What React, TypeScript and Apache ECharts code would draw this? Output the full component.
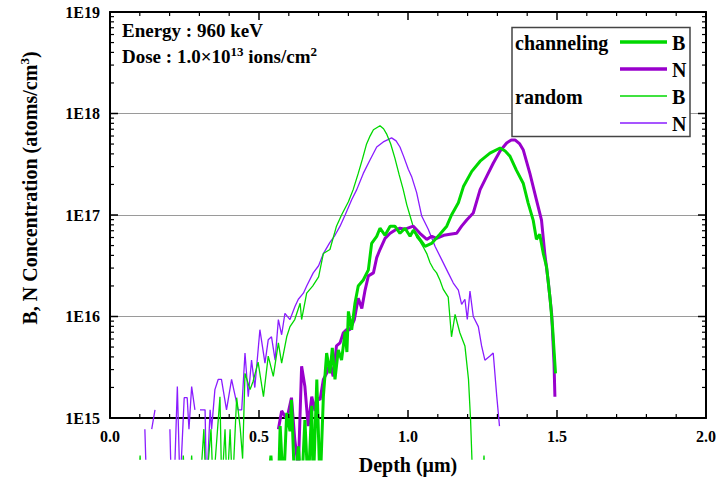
import React, { useEffect, useRef } from "react";
import * as echarts from "echarts";

// Each point: [depth (µm), log10(concentration in atoms/cm^3)]; null = gap (no counts)
type P = [number, number | null];

const xTickLabels = ["0.0", "0.5", "1.0", "1.5", "2.0"];
const yDecades = [15, 16, 17, 18, 19];

const channelingB: P[] = [
  [0.53, 14.3], [0.54, 14.63], [0.548, 14.3], [0.565, 14.3], [0.571, 14.92], [0.582, 14.3], [0.593, 15.05],
  [0.604, 14.87], [0.609, 15.18], [0.62, 14.3], [0.632, 14.72], [0.643, 14.3], [0.654, 14.98], [0.665, 14.3],
  [0.677, 15.12], [0.682, 14.3], [0.694, 15.38], [0.705, 14.3], [0.716, 15.21], [0.727, 15.64], [0.738, 15.44],
  [0.746, 15.69], [0.755, 15.38], [0.766, 15.67], [0.777, 15.57], [0.789, 15.85], [0.795, 15.65], [0.8, 16.05],
  [0.811, 15.87], [0.822, 16.13], [0.833, 16.3], [0.85, 16.36], [0.867, 16.46], [0.878, 16.72], [0.895, 16.79],
  [0.906, 16.87], [0.923, 16.8], [0.94, 16.89], [0.956, 16.89], [0.973, 16.82], [0.99, 16.87], [1.007, 16.79],
  [1.018, 16.85], [1.04, 16.76], [1.057, 16.69], [1.079, 16.72], [1.107, 16.81], [1.13, 16.89], [1.146, 17.0],
  [1.169, 17.12], [1.186, 17.28], [1.214, 17.43], [1.242, 17.53], [1.275, 17.61], [1.309, 17.66], [1.326, 17.63],
  [1.342, 17.58], [1.364, 17.44], [1.387, 17.31], [1.403, 17.12], [1.42, 16.95], [1.431, 16.76], [1.442, 16.81],
  [1.454, 16.62], [1.465, 16.49], [1.477, 16.17], [1.485, 15.9], [1.495, 15.44],
];

const channelingN: P[] = [
  [0.565, 14.89], [0.576, 15.07], [0.593, 14.99], [0.598, 15.05], [0.609, 15.2], [0.62, 14.79], [0.632, 14.5],
  [0.643, 15.51], [0.654, 15.31], [0.665, 14.92], [0.677, 15.21], [0.688, 15.07], [0.694, 15.2], [0.705, 15.18],
  [0.716, 15.38], [0.727, 15.44], [0.738, 15.54], [0.749, 15.41], [0.76, 15.71], [0.772, 15.74], [0.783, 15.84],
  [0.794, 15.87], [0.805, 15.87], [0.82, 15.97], [0.833, 16.18], [0.845, 16.08], [0.856, 16.26], [0.867, 16.4],
  [0.884, 16.43], [0.895, 16.58], [0.906, 16.66], [0.923, 16.77], [0.94, 16.82], [0.956, 16.85], [0.973, 16.87],
  [0.99, 16.86], [1.018, 16.89], [1.04, 16.82], [1.063, 16.76], [1.08, 16.79], [1.096, 16.77], [1.12, 16.8],
  [1.141, 16.81], [1.163, 16.82], [1.18, 16.89], [1.197, 16.95], [1.219, 17.02], [1.242, 17.25], [1.264, 17.38],
  [1.286, 17.51], [1.309, 17.63], [1.331, 17.71], [1.347, 17.74], [1.359, 17.74], [1.375, 17.7], [1.387, 17.64],
  [1.409, 17.41], [1.431, 17.15], [1.448, 16.95], [1.459, 16.62], [1.47, 16.36], [1.482, 16.03], [1.49, 15.54],
  [1.493, 15.21],
];

const randomB: P[] = [
  [0.095, 14.3], [0.101, 14.63], [0.107, 14.3], [0.11, null], [0.24, 14.3], [0.246, 14.63], [0.252, 14.3],
  [0.26, null], [0.268, 14.3], [0.274, 14.63], [0.28, 14.3], [0.29, null], [0.302, 14.3], [0.315, 14.89],
  [0.322, 14.3], [0.339, 14.89], [0.346, 14.3], [0.369, 15.21], [0.375, 14.3], [0.386, 14.89], [0.393, 14.3],
  [0.403, 14.89], [0.411, 14.3], [0.425, 15.2], [0.437, 14.9], [0.445, 14.6], [0.453, 15.44], [0.47, 15.28],
  [0.48, 15.36], [0.497, 15.55], [0.515, 15.21], [0.531, 15.61], [0.548, 15.41], [0.565, 15.74], [0.576, 15.54],
  [0.593, 15.8], [0.604, 15.9], [0.62, 15.97], [0.638, 16.13], [0.643, 15.97], [0.66, 16.23], [0.68, 16.3],
  [0.7, 16.39], [0.716, 16.62], [0.738, 16.66], [0.76, 16.89], [0.777, 17.0], [0.8, 17.13], [0.816, 17.25],
  [0.833, 17.41], [0.847, 17.55], [0.861, 17.7], [0.873, 17.78], [0.884, 17.84], [0.906, 17.88], [0.918, 17.85],
  [0.928, 17.8], [0.942, 17.7], [0.956, 17.56], [0.97, 17.4], [0.984, 17.25], [0.996, 17.1], [1.007, 16.99],
  [1.018, 16.88], [1.029, 16.78], [1.04, 16.74], [1.052, 16.68], [1.063, 16.62], [1.074, 16.53], [1.085, 16.47],
  [1.096, 16.43], [1.107, 16.36], [1.118, 16.27], [1.135, 16.19], [1.146, 15.8], [1.158, 16.02], [1.174, 15.84],
  [1.191, 15.71], [1.203, 15.38], [1.21, 14.98], [1.218, 14.3], [1.225, null], [1.249, 14.3], [1.255, 14.63],
  [1.261, 14.3],
];

const randomN: P[] = [
  [0.117, 14.89], [0.123, 14.3], [0.13, null], [0.14, 14.89], [0.151, 15.08], [0.16, null], [0.201, 14.89],
  [0.206, 14.3], [0.215, 14.3], [0.226, 15.31], [0.235, 14.3], [0.249, 15.2], [0.259, 15.2], [0.265, 14.89],
  [0.274, 15.31], [0.285, 15.08], [0.293, null], [0.302, 15.08], [0.319, 15.08], [0.324, 14.3], [0.336, 15.08],
  [0.341, 14.89], [0.352, 15.28], [0.363, 15.38], [0.374, 15.38], [0.391, 15.08], [0.408, 15.38], [0.43, 15.08],
  [0.442, 15.08], [0.453, 15.64], [0.464, 15.21], [0.475, 15.57], [0.486, 15.3], [0.503, 15.87], [0.52, 15.54],
  [0.531, 15.77], [0.542, 15.8], [0.554, 15.57], [0.565, 15.97], [0.576, 15.82], [0.587, 16.03], [0.604, 15.97],
  [0.621, 16.1], [0.632, 16.17], [0.649, 16.23], [0.66, 16.3], [0.682, 16.43], [0.7, 16.5], [0.716, 16.62],
  [0.738, 16.73], [0.755, 16.8], [0.772, 16.89], [0.789, 17.0], [0.811, 17.15], [0.828, 17.25], [0.85, 17.41],
  [0.872, 17.54], [0.895, 17.67], [0.917, 17.72], [0.945, 17.76], [0.96, 17.73], [0.973, 17.67], [0.985, 17.58],
  [1.001, 17.45], [1.012, 17.38], [1.029, 17.22], [1.046, 16.99], [1.068, 16.86], [1.091, 16.69], [1.113, 16.56],
  [1.135, 16.43], [1.152, 16.33], [1.169, 16.26], [1.18, 16.12], [1.191, 16.17], [1.199, 15.97], [1.208, 16.25],
  [1.219, 16.0], [1.236, 15.9], [1.247, 15.71], [1.258, 15.57], [1.275, 15.61], [1.286, 15.64], [1.298, 15.21],
  [1.307, 14.92],
];

const FONT = '"Liberation Serif", "Times New Roman", serif';
const GREEN = "#00d800";
const PURPLE_THICK = "#9900cc";
const PURPLE_THIN = "#8a1cff";

const toData = (pts: P[]) => pts.map(([d, e]) => [d, e == null ? "-" : Math.pow(10, e)]);

export default function App() {
  const ref = useRef<HTMLDivElement>(null);
  useEffect(() => {
    if (!ref.current) return;
    const chart = echarts.init(ref.current, null, { renderer: "svg" });

    const W = 722, H = 481;
    const L = 110, R = 16, T = 12, B = 63, dataB = 22;
    const plotW = W - L - R;
    const plotH = H - T - B;
    const dataH = H - T - dataB;
    const nDec = yDecades.length - 1;
    const floorExp = yDecades[nDec] - (nDec * dataH) / plotH;
    const yMin = Math.pow(10, yDecades[0]);
    const yMax = Math.pow(10, yDecades[nDec]);
    const xMin = 0, xMax = 2, xMajor = 0.5, xMinorSplit = 5;

    const labelStyle = { fontFamily: FONT, fontWeight: "bold" as const, fontSize: 16, color: "#000" };
    const axLine = () => ({ show: true, onZero: false, lineStyle: { color: "#000", width: 2 } });

    const line = (name: string, pts: P[], color: string, width: number, z: number) => ({
      name,
      type: "line" as const,
      xAxisIndex: 2,
      yAxisIndex: 2,
      data: toData(pts),
      showSymbol: false,
      symbol: "none",
      connectNulls: false,
      clip: true,
      lineStyle: { color, width },
      z,
    });

    const legendRows = [
      { y: 42, color: GREEN, width: 3.5, label: "B", group: "channeling" },
      { y: 69, color: PURPLE_THICK, width: 3.5, label: "N", group: "" },
      { y: 96, color: GREEN, width: 1.3, label: "B", group: "random" },
      { y: 123, color: PURPLE_THIN, width: 1.3, label: "N", group: "" },
    ];

    const graphics: any[] = [
      {
        type: "text",
        x: 122,
        y: 30,
        style: { text: "Energy : 960 keV", fill: "#000", font: `bold 19px ${FONT}`, textVerticalAlign: "middle" },
        z: 50,
      },
      {
        type: "text",
        x: 122,
        y: 45,
        style: {
          text: "{b|Dose : 1.0×10}{s|13}{b| ions/cm}{s|2}",
          rich: {
            b: { fontFamily: FONT, fontWeight: "bold", fontSize: 19, fill: "#000", lineHeight: 23 },
            s: { fontFamily: FONT, fontWeight: "bold", fontSize: 13, fill: "#000", lineHeight: 14, verticalAlign: "top" },
          },
        },
        z: 50,
      },
      {
        type: "text",
        x: 30,
        y: 188,
        rotation: Math.PI / 2,
        style: {
          text: "{b|B, N Concentration (atoms/cm}{s|3}{b|)}",
          align: "center",
          verticalAlign: "middle",
          textAlign: "center",
          textVerticalAlign: "middle",
          rich: {
            b: { fontFamily: FONT, fontWeight: "bold", fontSize: 20, fill: "#000", lineHeight: 24 },
            s: { fontFamily: FONT, fontWeight: "bold", fontSize: 13, fill: "#000", lineHeight: 14, verticalAlign: "top" },
          },
        },
        z: 50,
      },
      {
        type: "rect",
        shape: { x: 512, y: 27.5, width: 178, height: 109 },
        style: { fill: "#fff", stroke: "#444", lineWidth: 1.5 },
        z: 100,
      },
    ];
    legendRows.forEach((r) => {
      graphics.push({
        type: "line",
        shape: { x1: 620, y1: r.y, x2: 667, y2: r.y },
        style: { stroke: r.color, lineWidth: r.width },
        z: 101,
      });
      graphics.push({
        type: "text",
        x: 672,
        y: r.y + 1,
        style: { text: r.label, fill: "#000", font: `bold 20px ${FONT}`, textVerticalAlign: "middle" },
        z: 101,
      });
      if (r.group) {
        graphics.push({
          type: "text",
          x: 515,
          y: r.y + 1,
          style: { text: r.group, fill: "#000", font: `bold 20px ${FONT}`, textVerticalAlign: "middle" },
          z: 101,
        });
      }
    });

    // Frame tick marks (inside, on all four sides), placed on the frame's own linear / log mapping
    const frameX = (v: number) => L + ((v - xMin) / (xMax - xMin)) * plotW;
    const frameY = (v: number) =>
      T + plotH - ((Math.log10(v) - yDecades[0]) / (yDecades[nDec] - yDecades[0])) * plotH;
    const yBottom = T + plotH, yTop = T, xLeft = L, xRight = L + plotW;
    const tick = (x1: number, y1: number, x2: number, y2: number, major: boolean) => ({
      type: "line",
      shape: { x1, y1, x2, y2 },
      style: { stroke: "#000", lineWidth: major ? 1.5 : 1.2 },
      silent: true,
      z: 60,
    });
    const nX = Math.round((xMax - xMin) / (xMajor / xMinorSplit));
    for (let i = 0; i <= nX; i++) {
      const major = i % xMinorSplit === 0;
      const len = major ? 8 : 4;
      const x = frameX(xMin + (i * xMajor) / xMinorSplit);
      graphics.push(tick(x, yBottom, x, yBottom - len, major));
      graphics.push(tick(x, yTop, x, yTop + len, major));
    }
    for (let k = yDecades[0]; k <= yDecades[nDec]; k++) {
      for (let m = 1; m <= 9; m++) {
        const v = m * Math.pow(10, k);
        if (v > yMax * 1.0001) break;
        const major = m === 1;
        const len = major ? 8 : 4;
        const y = frameY(v);
        graphics.push(tick(xLeft, y, xLeft + len, y, major));
        graphics.push(tick(xRight, y, xRight - len, y, major));
      }
    }

    chart.setOption({
      animation: false,
      backgroundColor: "#fff",
      grid: [
        { left: L, right: R, top: T, bottom: B },
        { left: L, right: R, top: T, bottom: dataB },
      ],
      xAxis: [
        {
          type: "value",
          gridIndex: 0,
          min: xMin,
          max: xMax,
          interval: xMajor,
          position: "bottom",
          axisLine: axLine(),
          axisTick: { show: false },
          splitLine: { show: false },
          axisLabel: {
            ...labelStyle,
            margin: 10,
            formatter: (v: number) => xTickLabels[Math.round(v / xMajor)] ?? "",
          },
          name: "Depth (μm)",
          nameLocation: "middle",
          nameGap: 37,
          nameTextStyle: { fontFamily: FONT, fontWeight: "bold", fontSize: 20, color: "#000" },
        },
        {
          type: "value",
          gridIndex: 0,
          min: xMin,
          max: xMax,
          interval: xMajor,
          position: "top",
          axisLine: axLine(),
          axisTick: { show: false },
          splitLine: { show: false },
          axisLabel: { show: false },
        },
        { type: "value", gridIndex: 1, min: xMin, max: xMax, show: false },
      ],
      yAxis: [
        {
          type: "log",
          logBase: 10,
          gridIndex: 0,
          min: yMin,
          max: yMax,
          position: "left",
          axisLine: axLine(),
          axisTick: { show: false },
          axisLabel: {
            ...labelStyle,
            margin: 10,
            formatter: (v: number) => "1E" + Math.round(Math.log10(v)),
          },
          splitLine: { show: true, lineStyle: { color: "#9a9a9a", width: 1.2 } },
        },
        {
          type: "log",
          logBase: 10,
          gridIndex: 0,
          min: yMin,
          max: yMax,
          position: "right",
          axisLine: axLine(),
          axisTick: { show: false },
          axisLabel: { show: false },
          splitLine: { show: false },
        },
        {
          type: "log",
          logBase: 10,
          gridIndex: 1,
          min: Math.pow(10, floorExp),
          max: yMax,
          show: false,
        },
      ],
      series: [
        line("random N", randomN, PURPLE_THIN, 1.3, 2),
        line("random B", randomB, GREEN, 1.3, 3),
        line("channeling N", channelingN, PURPLE_THICK, 3, 4),
        line("channeling B", channelingB, GREEN, 3, 5),
      ],
      graphic: graphics,
    });

    return () => chart.dispose();
  }, []);

  return <div ref={ref} style={{ width: 722, height: 481, position: "absolute", left: 0, top: 0 }} />;
}
